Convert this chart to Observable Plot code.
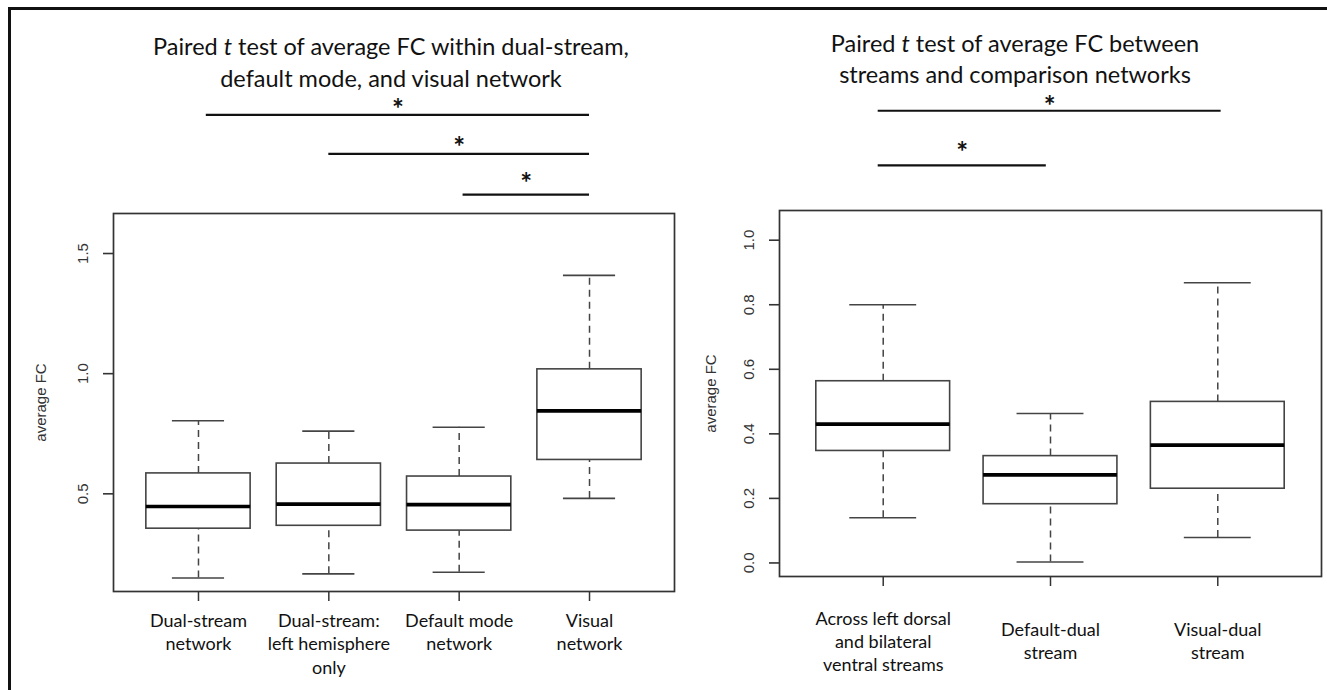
<!DOCTYPE html>
<html>
<head>
<meta charset="utf-8">
<script src="https://cdn.jsdelivr.net/npm/d3@7"></script>
<script src="https://cdn.jsdelivr.net/npm/@observablehq/plot@0.6"></script>
<style>
  body { margin: 0; background: #fff; }
  #wrap { position: relative; width: 1327px; height: 690px; overflow: hidden; background: #fff; }
  #border { position: absolute; left: 8px; top: 7px; width: 1400px; height: 800px; border-left: 3px solid #111; border-top: 3px solid #111; }
  .tline { position: absolute; font-family: Lato, "Open Sans", sans-serif; font-size: 23.5px; color: #111;
           text-align: center; line-height: 24px; white-space: nowrap; transform: translateX(-50%); }
  .panel { position: absolute; top: 0; }
</style>
</head>
<body>
<div id="wrap">
  <div id="border"></div>
</div>
<script>
// ---------- data ----------
const leftTitle = ["Paired <i>t</i> test of average FC within dual-stream,", "default mode, and visual network"];
const rightTitle = ["Paired <i>t</i> test of average FC between", "streams and comparison networks"];

const leftCategories = ["Dual-stream\nnetwork", "Dual-stream:\nleft hemisphere\nonly", "Default mode\nnetwork", "Visual\nnetwork"];
const leftLow    = [0.150, 0.167, 0.174, 0.481];
const leftQ1     = [0.355, 0.367, 0.347, 0.641];
const leftMedian = [0.447, 0.457, 0.455, 0.845];
const leftQ3     = [0.585, 0.626, 0.572, 1.018];
const leftHigh   = [0.804, 0.761, 0.777, 1.409];
const leftYTicks = [0.5, 1.0, 1.5];

const rightCategories = ["Across left dorsal\nand bilateral\nventral streams", "Default-dual\nstream", "Visual-dual\nstream"];
const rightLow    = [0.140, 0.003, 0.079];
const rightQ1     = [0.347, 0.182, 0.230];
const rightMedian = [0.430, 0.273, 0.365];
const rightQ3     = [0.563, 0.331, 0.499];
const rightHigh   = [0.800, 0.463, 0.868];
const rightYTicks = [0.0, 0.2, 0.4, 0.6, 0.8, 1.0];

// significance brackets: from / to category position, bracket value, asterisk value
const leftSigFrom = [1.06, 2.0, 3.03];
const leftSigTo   = [4.0, 4.0, 4.0];
const leftSigY    = [2.077, 1.915, 1.745];
const leftStarY   = [2.128, 1.969, 1.817];

const rightSigFrom = [0.97, 0.97];
const rightSigTo   = [3.02, 1.975];
const rightSigY    = [1.401, 1.232];
const rightStarY   = [1.435, 1.293];

// ---------- tables ----------
function boxTable(cats, lo, q1, med, q3, hi) {
  return cats.map((c, i) => ({pos: i + 1, cat: c, lo: lo[i], q1: q1[i], med: med[i], q3: q3[i], hi: hi[i]}));
}
function sigTable(from, to, y, star) {
  return from.map((f, i) => ({from: f, to: to[i], y: y[i], star: star[i]}));
}
const leftData = boxTable(leftCategories, leftLow, leftQ1, leftMedian, leftQ3, leftHigh);
const rightData = boxTable(rightCategories, rightLow, rightQ1, rightMedian, rightQ3, rightHigh);
const leftSig = sigTable(leftSigFrom, leftSigTo, leftSigY, leftStarY);
const rightSig = sigTable(rightSigFrom, rightSigTo, rightSigY, rightStarY);

const wrap = document.getElementById("wrap");
function addTitle(lines, cx, firstCenter, step) {
  lines.forEach((t, i) => {
    const d = document.createElement("div");
    d.className = "tline";
    d.innerHTML = t;
    d.style.left = cx + "px";
    d.style.top = (firstCenter + i * step - 12) + "px";
    wrap.appendChild(d);
  });
}
addTitle(leftTitle, 391, 46, 32);
addTitle(rightTitle, 1015, 43, 31);

const boxStroke = "#444";
function boxMarks(data) {
  return [
    Plot.ruleX(data, {x: "pos", y1: "q3", y2: "hi", stroke: boxStroke, strokeWidth: 1.5, strokeDasharray: "7,5"}),
    Plot.ruleX(data, {x: "pos", y1: "lo", y2: "q1", stroke: boxStroke, strokeWidth: 1.5, strokeDasharray: "7,5"}),
    Plot.ruleY(data, {y: "hi", x1: d => d.pos - 0.2, x2: d => d.pos + 0.2, stroke: boxStroke, strokeWidth: 1.6}),
    Plot.ruleY(data, {y: "lo", x1: d => d.pos - 0.2, x2: d => d.pos + 0.2, stroke: boxStroke, strokeWidth: 1.6}),
    Plot.rect(data, {x1: d => d.pos - 0.4, x2: d => d.pos + 0.4, y1: "q1", y2: "q3", fill: "white", stroke: boxStroke, strokeWidth: 1.6}),
    Plot.ruleY(data, {y: "med", x1: d => d.pos - 0.4, x2: d => d.pos + 0.4, stroke: "#000", strokeWidth: 3.6})
  ];
}
function sigMarks(sig) {
  return [
    Plot.ruleY(sig, {y: "y", x1: "from", x2: "to", stroke: "#111", strokeWidth: 2.2}),
    Plot.text(sig, {x: d => (d.from + d.to) / 2, y: "star", text: () => "*", fontSize: 28, fontWeight: "bold",
                    fontFamily: "Lato, sans-serif", fill: "#111", lineAnchor: "middle", dy: 7})
  ];
}
// y axis: 10-px tick lines left of the frame (rules in x data units) and rotated labels
function yAxisMarks(ticks, xDomain, frameWidth, labelOffset) {
  const unitsPerPx = (xDomain[1] - xDomain[0]) / frameWidth;
  return [
    Plot.ruleY(ticks, {y: d => d, x1: xDomain[0] - 10 * unitsPerPx, x2: xDomain[0], stroke: "#333", strokeWidth: 1.6}),
    Plot.axisY({ticks, tickFormat: d => d.toFixed(1), tickSize: 0, tickPadding: 30, rotate: -90,
                textAnchor: "middle", lineAnchor: "middle", fontSize: 15, fontFamily: "Liberation Sans, Arial, sans-serif",
                fill: "#333", label: "average FC", labelAnchor: "center", labelOffset, labelArrow: "none"})
  ];
}

const L = {width: 700, height: 690, marginLeft: 113, marginRight: 26, marginTop: 213, marginBottom: 99};
const leftXDomain = [0.348, 4.652];
const leftPlot = Plot.plot({
  ...L,
  x: {type: "linear", domain: leftXDomain},
  y: {type: "linear", domain: [0.0936, 1.6665]},
  style: {background: "transparent", overflow: "visible", color: "#222"},
  marks: [
    ...boxMarks(leftData),
    Plot.frame({stroke: "#333", strokeWidth: 1.7}),
    ...yAxisMarks(leftYTicks, leftXDomain, L.width - L.marginLeft - L.marginRight, 78),
    Plot.axisX({ticks: leftData.map(d => d.pos), tickFormat: p => leftCategories[p - 1], tickSize: 10, tickPadding: 8,
                fontSize: 18, fontFamily: "Lato, sans-serif", lineHeight: 1.33, lineAnchor: "top",
                stroke: "#333", strokeWidth: 1.5, fill: "#111", label: null}),
    ...sigMarks(leftSig)
  ]
});
leftPlot.classList.add("panel");
leftPlot.style.left = "0px";

const R = {width: 627, height: 690, marginLeft: 79, marginRight: 6, marginTop: 210, marginBottom: 114};
const rightXDomain = [0.38, 3.62];
const rightPlot = Plot.plot({
  ...R,
  x: {type: "linear", domain: rightXDomain},
  y: {type: "linear", domain: [-0.042, 1.092]},
  style: {background: "transparent", overflow: "visible", color: "#222"},
  marks: [
    ...boxMarks(rightData),
    Plot.frame({stroke: "#333", strokeWidth: 1.7}),
    ...yAxisMarks(rightYTicks, rightXDomain, R.width - R.marginLeft - R.marginRight, 74),
    Plot.axisX({ticks: rightData.map(d => d.pos), tickFormat: p => rightCategories[p - 1], tickSize: 10, tickPadding: 54,
                fontSize: 18, fontFamily: "Lato, sans-serif", lineHeight: 1.28, lineAnchor: "middle",
                stroke: "#333", strokeWidth: 1.5, fill: "#111", label: null}),
    ...sigMarks(rightSig)
  ]
});
rightPlot.classList.add("panel");
rightPlot.style.left = "700px";

wrap.appendChild(leftPlot);
wrap.appendChild(rightPlot);
</script>
</body>
</html>
